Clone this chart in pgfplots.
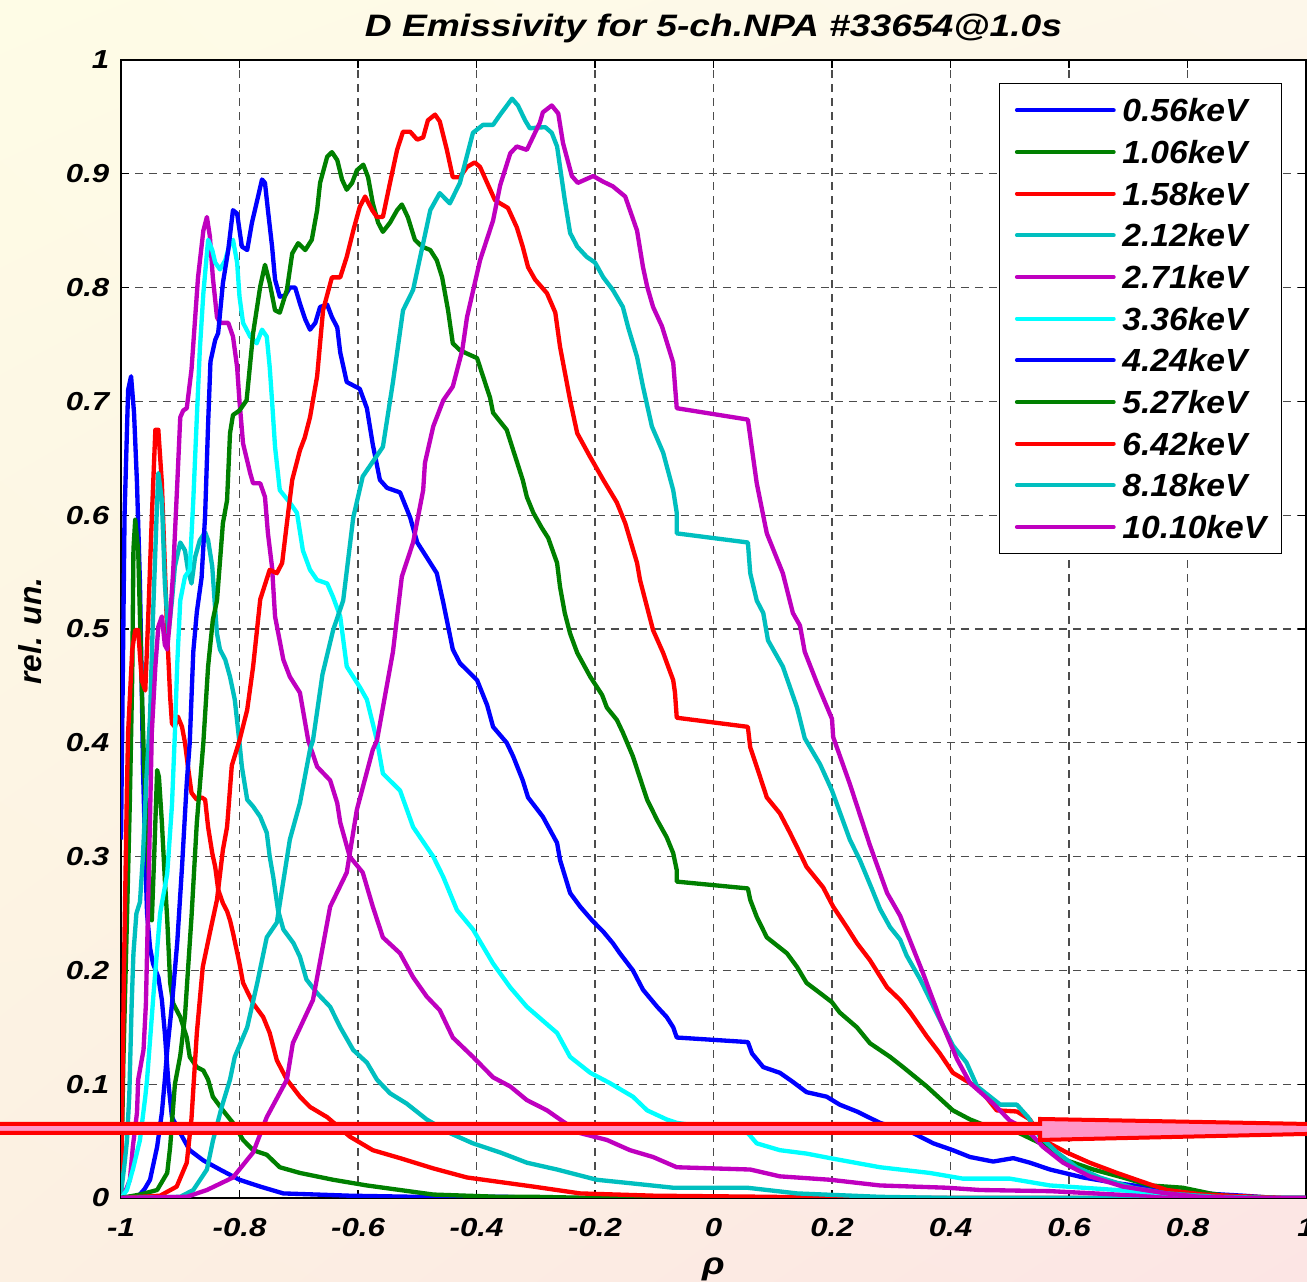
\documentclass[border=0pt]{standalone}
\usepackage{fontspec}
\setmainfont{Liberation Sans}
\newfontfamily\widefont{Liberation Sans}[FakeStretch=1.2]
\newfontfamily\legfont{Liberation Sans}[FakeStretch=1.05]
\usepackage{pgfplots}
\pgfplotsset{compat=1.18}
\usetikzlibrary{shadings}

\definecolor{mblue}{rgb}{0,0,1}
\definecolor{mgreen}{rgb}{0,0.5,0}
\definecolor{mred}{rgb}{1,0,0}
\definecolor{mteal}{rgb}{0,0.75,0.75}
\definecolor{mmag}{rgb}{0.75,0,0.75}
\definecolor{mcyan}{rgb}{0,1,1}
\definecolor{bgUL}{RGB}{254,252,230}
\definecolor{bgUR}{RGB}{253,247,234}
\definecolor{bgLL}{RGB}{252,240,226}
\definecolor{bgLR}{RGB}{252,229,228}
\definecolor{arrowpink}{RGB}{255,150,200}

\begin{document}
\begin{tikzpicture}
\useasboundingbox (0,0) rectangle (392.1pt,384.6pt);
\shade[upper left=bgUL, upper right=bgUR, lower left=bgLL, lower right=bgLR]
  (0,0) rectangle (392.1pt,384.6pt);
\begin{axis}[
  at={(36.3pt,25.2pt)}, anchor=south west,
  scale only axis, width=355.5pt, height=341.4pt,
  xmin=-1, xmax=1, ymin=0, ymax=1,
  axis background/.style={fill=white},
  xtick={-1,-0.8,-0.6,-0.4,-0.2,0,0.2,0.4,0.6,0.8,1},
  xticklabels={-1,-0.8,-0.6,-0.4,-0.2,0,0.2,0.4,0.6,0.8,1},
  ytick={0,0.1,0.2,0.3,0.4,0.5,0.6,0.7,0.8,0.9,1},
  yticklabels={0,0.1,0.2,0.3,0.4,0.5,0.6,0.7,0.8,0.9,1},
  grid=major,
  major grid style={dash pattern=on 2.4pt off 1.8pt, line width=0.35pt, color=black!70},
  axis line style={line width=0.4pt, black},
  tick style={line width=0.4pt, black}, major tick length=2.4pt,
  tick label style={font=\widefont\bfseries\itshape\fontsize{7.8}{9}\selectfont},
  xticklabel style={anchor=base, yshift=-11.7pt, inner sep=0pt},
  yticklabel style={anchor=east, inner sep=0pt, xshift=-3.3pt},
  title={D Emissivity for 5-ch.NPA \#33654@1.0s},
  every axis title/.style={at={(0.5,1)}, anchor=base, yshift=6.9pt, inner sep=0pt,
    font=\widefont\bfseries\itshape\fontsize{9.3}{11}\selectfont},
  xlabel={\textit{ρ}},
  every axis x label/.style={at={(0.5,0)}, anchor=center, yshift=-21.3pt,
    font=\widefont\bfseries\itshape\fontsize{9.3}{11}\selectfont},
  ylabel={rel. un.},
  every axis y label/.style={at={(0,0.5)}, rotate=90, anchor=center,
    yshift=27.3pt, xshift=-0.6pt,
    font=\bfseries\itshape\fontsize{9.5}{11}\selectfont},
  legend style={at={(0.9797,0.9798)}, anchor=north east, draw=black,
    line width=0.4pt, fill=white, inner sep=2.5pt, row sep=1.5pt,
    nodes={text height=7pt, text depth=0pt, inner sep=2pt,
      font=\legfont\bfseries\itshape\fontsize{9.6}{11}\selectfont}},
  legend cell align=left,
  legend image code/.code={\path (-2.1pt,0pt);
    \draw[#1, line width=1.25pt, line cap=round] (0pt,0pt) -- (29pt,0pt);},
  every axis plot/.append style={line width=1.3pt, line join=round, mark=none},
]
% 0.56 keV
\addplot[mblue] coordinates {
(-1,0.315) (-0.994,0.60) (-0.988,0.71) (-0.983,0.722) (-0.978,0.69) (-0.973,0.628)
(-0.968,0.54) (-0.965,0.452) (-0.963,0.38) (-0.959,0.30) (-0.956,0.25) (-0.951,0.22)
(-0.946,0.206) (-0.937,0.194) (-0.931,0.174) (-0.926,0.145) (-0.920,0.101) (-0.914,0.071)
(-0.900,0.057) (-0.884,0.042) (-0.861,0.033) (-0.833,0.025) (-0.800,0.016) (-0.765,0.010)
(-0.726,0.004) (-0.669,0.003) (-0.614,0.002) (-0.5,0.001) (-0.35,0.001) (-0.3,0) (1,0)};
% 1.06 keV
\addplot[mgreen] coordinates {
(-1,0) (-0.996,0.12) (-0.99,0.244) (-0.985,0.35) (-0.981,0.46) (-0.979,0.57) (-0.976,0.596)
(-0.971,0.569) (-0.968,0.511) (-0.965,0.45) (-0.961,0.38) (-0.957,0.33) (-0.952,0.27)
(-0.948,0.244) (-0.944,0.30) (-0.939,0.376) (-0.936,0.37) (-0.931,0.33) (-0.926,0.28)
(-0.922,0.245) (-0.917,0.189) (-0.912,0.171) (-0.900,0.159) (-0.889,0.141) (-0.884,0.124)
(-0.872,0.115) (-0.861,0.112) (-0.853,0.104) (-0.845,0.089) (-0.828,0.077) (-0.811,0.066)
(-0.794,0.051) (-0.777,0.042) (-0.754,0.038) (-0.732,0.027) (-0.698,0.022) (-0.642,0.016)
(-0.585,0.011) (-0.529,0.007) (-0.473,0.003) (-0.36,0.001) (-0.3,0.001) (-0.2,0) (1,0)};
% 1.58 keV
\addplot[mred] coordinates {
(-1,0) (-0.995,0.2) (-0.99,0.36) (-0.988,0.409) (-0.981,0.482) (-0.976,0.499) (-0.971,0.499)
(-0.965,0.455) (-0.959,0.446) (-0.954,0.511) (-0.948,0.598) (-0.942,0.675) (-0.937,0.675)
(-0.931,0.628) (-0.926,0.555) (-0.922,0.496) (-0.917,0.44) (-0.914,0.417) (-0.909,0.414)
(-0.904,0.423) (-0.897,0.414) (-0.892,0.40) (-0.887,0.379) (-0.881,0.356) (-0.872,0.35)
(-0.864,0.352) (-0.858,0.35) (-0.853,0.326) (-0.846,0.303) (-0.841,0.291) (-0.836,0.271)
(-0.828,0.259) (-0.821,0.252) (-0.816,0.244) (-0.811,0.233) (-0.800,0.206) (-0.794,0.189)
(-0.777,0.171) (-0.760,0.159) (-0.749,0.145) (-0.737,0.121) (-0.720,0.104) (-0.698,0.089)
(-0.681,0.080) (-0.652,0.071) (-0.614,0.054) (-0.575,0.042) (-0.529,0.035) (-0.473,0.026)
(-0.416,0.018) (-0.36,0.014) (-0.304,0.010) (-0.225,0.004) (-0.1,0.002) (0.1,0.001) (0.2,0) (1,0)};
% 2.12 keV
\addplot[mteal] coordinates {
(-1,0.004) (-0.994,0.03) (-0.99,0.05) (-0.986,0.09) (-0.982,0.17) (-0.979,0.215) (-0.974,0.25)
(-0.968,0.26) (-0.963,0.30) (-0.957,0.37) (-0.951,0.423) (-0.946,0.511) (-0.940,0.598)
(-0.937,0.637) (-0.931,0.613) (-0.926,0.54) (-0.92,0.496) (-0.914,0.525) (-0.909,0.555)
(-0.900,0.576) (-0.892,0.569) (-0.887,0.552) (-0.881,0.54) (-0.875,0.563) (-0.867,0.578)
(-0.858,0.585) (-0.853,0.578) (-0.846,0.555) (-0.841,0.517) (-0.838,0.496) (-0.833,0.482)
(-0.824,0.473) (-0.816,0.458) (-0.808,0.438) (-0.800,0.40) (-0.796,0.379) (-0.787,0.35)
(-0.777,0.344) (-0.765,0.335) (-0.754,0.321) (-0.749,0.30) (-0.743,0.282) (-0.735,0.253)
(-0.726,0.236) (-0.709,0.224) (-0.698,0.212) (-0.687,0.192) (-0.669,0.18) (-0.647,0.168)
(-0.63,0.15) (-0.608,0.13) (-0.585,0.119) (-0.568,0.104) (-0.546,0.092) (-0.518,0.083)
(-0.484,0.069) (-0.445,0.057) (-0.406,0.048) (-0.36,0.04) (-0.315,0.031) (-0.264,0.025)
(-0.197,0.016) (-0.141,0.013) (-0.068,0.009) (0.057,0.009) (0.141,0.004) (0.281,0.001) (0.4,0) (1,0)};
% 2.71 keV
\addplot[mmag] coordinates {
(-1,0) (-0.997,0.001) (-0.991,0.008) (-0.985,0.016) (-0.98,0.045) (-0.973,0.075) (-0.971,0.104)
(-0.962,0.13) (-0.958,0.17) (-0.954,0.262) (-0.948,0.409) (-0.942,0.467) (-0.937,0.502)
(-0.931,0.511) (-0.926,0.486) (-0.922,0.482) (-0.917,0.511) (-0.912,0.55) (-0.905,0.628)
(-0.9,0.686) (-0.895,0.692) (-0.889,0.694) (-0.881,0.728) (-0.87,0.809) (-0.861,0.85)
(-0.855,0.862) (-0.85,0.845) (-0.845,0.809) (-0.838,0.774) (-0.833,0.769) (-0.819,0.769)
(-0.811,0.757) (-0.804,0.73) (-0.8,0.70) (-0.794,0.663) (-0.782,0.637) (-0.777,0.628)
(-0.765,0.628) (-0.757,0.616) (-0.752,0.584) (-0.745,0.554) (-0.74,0.511) (-0.726,0.473)
(-0.715,0.458) (-0.698,0.444) (-0.684,0.402) (-0.669,0.379) (-0.647,0.367) (-0.635,0.347)
(-0.63,0.33) (-0.614,0.3) (-0.592,0.286) (-0.575,0.256) (-0.558,0.229) (-0.529,0.215)
(-0.507,0.194) (-0.484,0.177) (-0.462,0.165) (-0.44,0.141) (-0.406,0.124) (-0.372,0.106)
(-0.343,0.098) (-0.315,0.086) (-0.281,0.077) (-0.259,0.069) (-0.225,0.057) (-0.18,0.051)
(-0.141,0.042) (-0.102,0.036) (-0.062,0.027) (0.062,0.025) (0.112,0.019) (0.197,0.016)
(0.281,0.011) (0.394,0.009) (0.45,0.007) (0.568,0.006) (0.681,0.003) (0.792,0.001) (0.9,0) (1,0)};
% 3.36 keV
\addplot[mcyan] coordinates {
(-1,0) (-0.99,0.007) (-0.98,0.025) (-0.968,0.051) (-0.959,0.089) (-0.956,0.104) (-0.945,0.18)
(-0.934,0.25) (-0.922,0.285) (-0.914,0.345) (-0.909,0.409) (-0.905,0.47) (-0.9,0.525)
(-0.892,0.546) (-0.884,0.552) (-0.878,0.613) (-0.872,0.686) (-0.867,0.745) (-0.861,0.795)
(-0.853,0.842) (-0.846,0.833) (-0.841,0.822) (-0.833,0.816) (-0.824,0.824) (-0.816,0.839)
(-0.811,0.842) (-0.804,0.822) (-0.8,0.792) (-0.794,0.769) (-0.782,0.757) (-0.771,0.751)
(-0.762,0.763) (-0.754,0.757) (-0.749,0.73) (-0.745,0.70) (-0.740,0.66) (-0.732,0.622)
(-0.715,0.611) (-0.703,0.602) (-0.693,0.569) (-0.681,0.552) (-0.669,0.543) (-0.652,0.54)
(-0.642,0.528) (-0.63,0.511) (-0.619,0.467) (-0.597,0.449) (-0.585,0.438) (-0.568,0.402)
(-0.558,0.373) (-0.529,0.358) (-0.507,0.326) (-0.473,0.3) (-0.456,0.282) (-0.433,0.253)
(-0.406,0.236) (-0.372,0.206) (-0.343,0.185) (-0.315,0.168) (-0.264,0.145) (-0.242,0.124)
(-0.208,0.11) (-0.175,0.101) (-0.136,0.089) (-0.112,0.077) (-0.079,0.069) (-0.062,0.066)
(0.058,0.057) (0.073,0.048) (0.112,0.042) (0.157,0.039) (0.197,0.035) (0.281,0.027)
(0.365,0.022) (0.421,0.017) (0.5,0.017) (0.568,0.011) (0.624,0.009) (0.681,0.007)
(0.765,0.004) (0.85,0.001) (0.95,0) (1,0)};
% 4.24 keV
\addplot[mblue] coordinates {
(-1,0) (-0.97,0.002) (-0.96,0.008) (-0.951,0.016) (-0.939,0.045) (-0.931,0.075) (-0.926,0.104)
(-0.922,0.13) (-0.914,0.17) (-0.905,0.225) (-0.897,0.291) (-0.889,0.365) (-0.884,0.40)
(-0.878,0.48) (-0.872,0.515) (-0.864,0.545) (-0.858,0.60) (-0.853,0.68) (-0.849,0.735)
(-0.841,0.754) (-0.836,0.76) (-0.828,0.804) (-0.819,0.833) (-0.811,0.868) (-0.804,0.865)
(-0.796,0.836) (-0.787,0.833) (-0.779,0.857) (-0.77,0.877) (-0.762,0.895) (-0.757,0.892)
(-0.752,0.868) (-0.745,0.836) (-0.74,0.807) (-0.732,0.792) (-0.723,0.793) (-0.715,0.8)
(-0.706,0.8) (-0.698,0.786) (-0.689,0.772) (-0.681,0.763) (-0.672,0.769) (-0.664,0.783)
(-0.652,0.785) (-0.644,0.774) (-0.635,0.765) (-0.63,0.743) (-0.619,0.717) (-0.608,0.714)
(-0.597,0.711) (-0.585,0.694) (-0.575,0.662) (-0.563,0.631) (-0.551,0.624) (-0.529,0.62)
(-0.512,0.598) (-0.5,0.576) (-0.484,0.563) (-0.467,0.549) (-0.456,0.523) (-0.44,0.482)
(-0.428,0.47) (-0.399,0.455) (-0.382,0.433) (-0.372,0.414) (-0.349,0.4) (-0.338,0.388)
(-0.322,0.367) (-0.313,0.352) (-0.288,0.335) (-0.264,0.312) (-0.259,0.297) (-0.242,0.268)
(-0.225,0.256) (-0.205,0.244) (-0.186,0.234) (-0.17,0.224) (-0.158,0.215) (-0.136,0.2)
(-0.119,0.183) (-0.095,0.168) (-0.079,0.159) (-0.068,0.15) (-0.062,0.141) (0.058,0.137)
(0.065,0.127) (0.084,0.115) (0.112,0.11) (0.134,0.102) (0.157,0.093) (0.191,0.089)
(0.213,0.082) (0.242,0.076) (0.281,0.066) (0.337,0.057) (0.371,0.048) (0.404,0.042)
(0.433,0.036) (0.472,0.032) (0.506,0.035) (0.534,0.031) (0.568,0.025) (0.624,0.018)
(0.681,0.013) (0.737,0.009) (0.792,0.005) (0.894,0.002) (0.95,0) (1,0)};
% 5.27 keV
\addplot[mgreen] coordinates {
(-1,0) (-0.968,0.003) (-0.939,0.007) (-0.922,0.022) (-0.917,0.045) (-0.912,0.08) (-0.909,0.10)
(-0.9,0.125) (-0.892,0.16) (-0.887,0.2) (-0.881,0.247) (-0.872,0.33) (-0.861,0.40)
(-0.853,0.467) (-0.845,0.508) (-0.838,0.525) (-0.828,0.593) (-0.821,0.613) (-0.816,0.672)
(-0.811,0.688) (-0.8,0.692) (-0.788,0.701) (-0.777,0.76) (-0.765,0.801) (-0.757,0.82)
(-0.749,0.804) (-0.74,0.78) (-0.732,0.778) (-0.72,0.798) (-0.711,0.83) (-0.701,0.839)
(-0.689,0.833) (-0.678,0.842) (-0.669,0.868) (-0.664,0.892) (-0.652,0.915) (-0.644,0.919)
(-0.635,0.912) (-0.627,0.895) (-0.619,0.886) (-0.61,0.892) (-0.602,0.903) (-0.591,0.908)
(-0.583,0.897) (-0.575,0.874) (-0.566,0.857) (-0.558,0.849) (-0.546,0.857) (-0.534,0.868)
(-0.526,0.873) (-0.516,0.862) (-0.504,0.842) (-0.492,0.836) (-0.478,0.833) (-0.467,0.824)
(-0.458,0.809) (-0.448,0.78) (-0.44,0.751) (-0.428,0.745) (-0.416,0.742) (-0.399,0.738)
(-0.389,0.722) (-0.377,0.703) (-0.372,0.69) (-0.349,0.675) (-0.338,0.657) (-0.322,0.631)
(-0.315,0.616) (-0.304,0.602) (-0.29,0.589) (-0.279,0.58) (-0.264,0.558) (-0.259,0.537)
(-0.251,0.514) (-0.242,0.496) (-0.23,0.479) (-0.208,0.458) (-0.188,0.442) (-0.18,0.431)
(-0.163,0.42) (-0.153,0.409) (-0.136,0.388) (-0.119,0.361) (-0.112,0.35) (-0.095,0.332)
(-0.079,0.317) (-0.068,0.303) (-0.062,0.288) (-0.062,0.278) (0.058,0.272) (0.062,0.262)
(0.073,0.247) (0.09,0.229) (0.124,0.215) (0.141,0.203) (0.157,0.189) (0.18,0.18) (0.2,0.172)
(0.213,0.163) (0.242,0.15) (0.264,0.136) (0.298,0.124) (0.32,0.115) (0.36,0.098) (0.404,0.077)
(0.433,0.069) (0.467,0.062) (0.512,0.058) (0.556,0.047) (0.596,0.033) (0.641,0.025)
(0.691,0.018) (0.737,0.011) (0.792,0.009) (0.838,0.004) (0.877,0.001) (0.95,0) (1,0)};
% 6.42 keV
\addplot[mred] coordinates {
(-1,0) (-0.934,0.002) (-0.906,0.01) (-0.889,0.031) (-0.881,0.07) (-0.872,0.145) (-0.862,0.203)
(-0.85,0.233) (-0.838,0.262) (-0.828,0.306) (-0.821,0.326) (-0.813,0.38) (-0.8,0.402)
(-0.787,0.429) (-0.777,0.467) (-0.765,0.526) (-0.749,0.552) (-0.737,0.549) (-0.728,0.558)
(-0.72,0.593) (-0.711,0.631) (-0.698,0.657) (-0.69,0.668) (-0.681,0.686) (-0.669,0.722)
(-0.659,0.78) (-0.644,0.809) (-0.63,0.809) (-0.619,0.827) (-0.608,0.85) (-0.597,0.871)
(-0.588,0.88) (-0.576,0.868) (-0.568,0.862) (-0.558,0.862) (-0.546,0.892) (-0.534,0.921)
(-0.524,0.937) (-0.512,0.937) (-0.5,0.93) (-0.49,0.932) (-0.482,0.947) (-0.47,0.952)
(-0.462,0.946) (-0.45,0.921) (-0.44,0.897) (-0.428,0.897) (-0.416,0.906) (-0.403,0.91)
(-0.394,0.906) (-0.382,0.892) (-0.369,0.877) (-0.36,0.874) (-0.347,0.87) (-0.332,0.853)
(-0.322,0.836) (-0.313,0.818) (-0.301,0.807) (-0.281,0.795) (-0.267,0.778) (-0.259,0.748)
(-0.242,0.701) (-0.23,0.672) (-0.208,0.651) (-0.186,0.631) (-0.163,0.611) (-0.149,0.593)
(-0.129,0.558) (-0.124,0.543) (-0.112,0.519) (-0.102,0.499) (-0.085,0.479) (-0.068,0.455)
(-0.065,0.444) (-0.062,0.422) (0.058,0.414) (0.062,0.396) (0.073,0.379) (0.09,0.352)
(0.112,0.338) (0.129,0.321) (0.146,0.303) (0.157,0.291) (0.185,0.273) (0.202,0.256)
(0.225,0.238) (0.242,0.224) (0.264,0.209) (0.293,0.185) (0.315,0.174) (0.332,0.163)
(0.36,0.142) (0.382,0.127) (0.404,0.11) (0.433,0.101) (0.455,0.092) (0.478,0.077)
(0.512,0.076) (0.534,0.069) (0.556,0.051) (0.596,0.04) (0.635,0.031) (0.681,0.022)
(0.725,0.014) (0.765,0.007) (0.826,0.003) (0.96,0) (1,0)};
% 8.18 keV
\addplot[mteal] coordinates {
(-1,0) (-0.9,0.001) (-0.878,0.007) (-0.855,0.025) (-0.845,0.05) (-0.83,0.08) (-0.816,0.104)
(-0.808,0.124) (-0.787,0.15) (-0.77,0.189) (-0.754,0.229) (-0.737,0.242) (-0.715,0.315)
(-0.698,0.347) (-0.681,0.394) (-0.676,0.402) (-0.66,0.46) (-0.642,0.499) (-0.625,0.525)
(-0.608,0.598) (-0.592,0.634) (-0.558,0.66) (-0.541,0.717) (-0.524,0.78) (-0.507,0.798)
(-0.49,0.839) (-0.478,0.868) (-0.462,0.883) (-0.445,0.874) (-0.428,0.892) (-0.406,0.936)
(-0.389,0.943) (-0.372,0.943) (-0.36,0.952) (-0.34,0.966) (-0.33,0.96) (-0.318,0.947)
(-0.31,0.94) (-0.284,0.941) (-0.273,0.936) (-0.264,0.924) (-0.259,0.906) (-0.251,0.877)
(-0.242,0.848) (-0.23,0.836) (-0.214,0.827) (-0.2,0.822) (-0.186,0.809) (-0.17,0.798)
(-0.153,0.783) (-0.144,0.765) (-0.129,0.739) (-0.119,0.713) (-0.104,0.678) (-0.085,0.655)
(-0.068,0.622) (-0.062,0.602) (-0.062,0.584) (0.058,0.576) (0.062,0.549) (0.073,0.525)
(0.084,0.514) (0.092,0.49) (0.117,0.467) (0.129,0.449) (0.141,0.431) (0.154,0.404)
(0.18,0.381) (0.2,0.358) (0.23,0.315) (0.247,0.297) (0.267,0.272) (0.281,0.254) (0.298,0.238)
(0.315,0.227) (0.326,0.213) (0.349,0.192) (0.377,0.162) (0.404,0.134) (0.427,0.119)
(0.445,0.098) (0.484,0.082) (0.512,0.082) (0.531,0.071) (0.551,0.054) (0.58,0.04)
(0.613,0.027) (0.652,0.018) (0.708,0.009) (0.765,0.004) (0.85,0.001) (0.95,0) (1,0)};
% 10.10 keV
\addplot[mmag] coordinates {
(-1,0) (-0.889,0.001) (-0.855,0.007) (-0.811,0.018) (-0.777,0.04) (-0.754,0.071) (-0.72,0.104)
(-0.71,0.136) (-0.676,0.174) (-0.647,0.256) (-0.619,0.286) (-0.602,0.341) (-0.575,0.394)
(-0.568,0.402) (-0.541,0.48) (-0.526,0.546) (-0.507,0.576) (-0.49,0.622) (-0.487,0.646)
(-0.473,0.678) (-0.456,0.701) (-0.44,0.713) (-0.424,0.745) (-0.416,0.774) (-0.394,0.824)
(-0.372,0.859) (-0.36,0.89) (-0.343,0.918) (-0.332,0.924) (-0.315,0.921) (-0.293,0.945)
(-0.288,0.954) (-0.273,0.96) (-0.262,0.953) (-0.254,0.927) (-0.239,0.898) (-0.229,0.892)
(-0.203,0.898) (-0.186,0.893) (-0.17,0.889) (-0.149,0.88) (-0.129,0.85) (-0.119,0.818)
(-0.112,0.801) (-0.102,0.783) (-0.087,0.766) (-0.068,0.734) (-0.062,0.694) (0.058,0.684)
(0.073,0.628) (0.09,0.584) (0.117,0.549) (0.134,0.514) (0.146,0.503) (0.154,0.48)
(0.175,0.452) (0.2,0.421) (0.202,0.405) (0.23,0.364) (0.264,0.31) (0.293,0.268) (0.315,0.248)
(0.354,0.197) (0.382,0.158) (0.411,0.122) (0.433,0.101) (0.472,0.083) (0.5,0.068)
(0.529,0.06) (0.556,0.045) (0.59,0.031) (0.635,0.019) (0.691,0.01) (0.765,0.004)
(0.821,0.001) (0.9,0) (1,0)};
\legend{0.56keV,1.06keV,1.58keV,2.12keV,2.71keV,3.36keV,4.24keV,5.27keV,6.42keV,8.18keV,10.10keV}
\end{axis}
% highlight arrow along the 0.06 level
\draw[mred, line width=1.2pt, fill=arrowpink, line join=miter]
  (-3pt,47.4pt) -- (312pt,47.4pt) -- (312pt,48.9pt) -- (465pt,46.05pt)
  -- (312pt,42.6pt) -- (312pt,44.7pt) -- (-3pt,44.7pt) -- cycle;
\end{tikzpicture}
\end{document}
